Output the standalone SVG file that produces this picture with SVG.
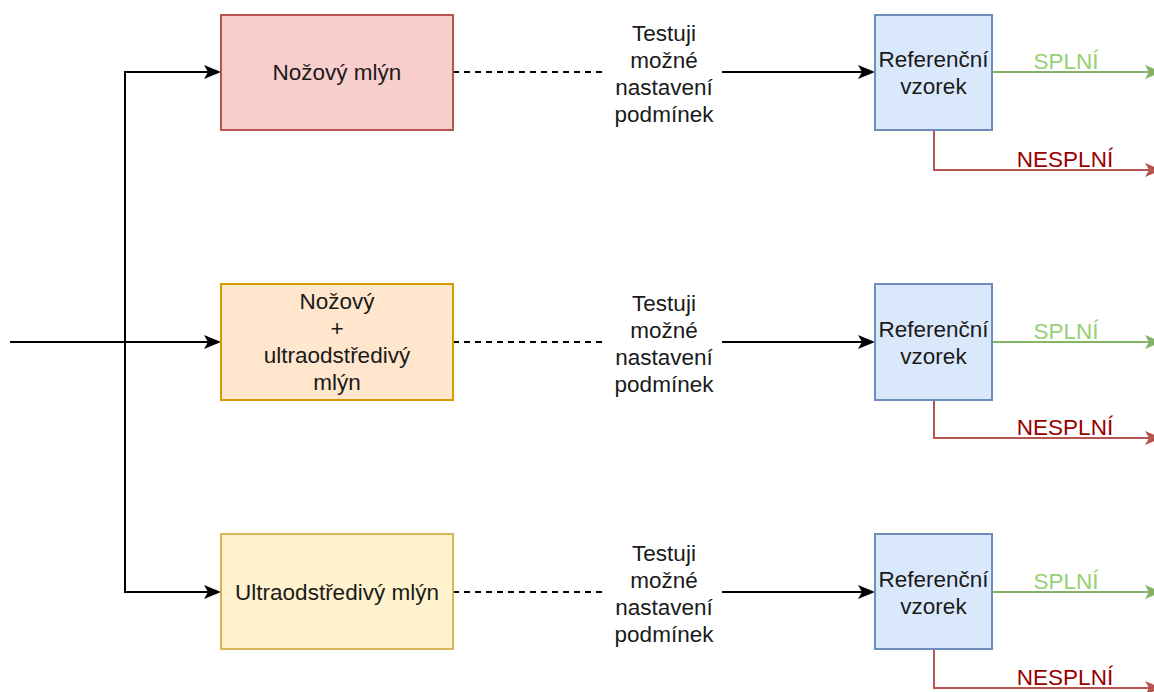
<svg xmlns="http://www.w3.org/2000/svg" width="1154" height="692" viewBox="0 0 1154 692">
  <style>
    text { font-family: "Liberation Sans", Arial, Helvetica, sans-serif; font-size: 22.5px; text-anchor: middle; fill: #1a1a1a; }
    .box { stroke-width: 2; }
    .mill-red { fill: #f8cecc; stroke: #b85450; }
    .mill-orange { fill: #ffe6cc; stroke: #d79b00; }
    .mill-yellow { fill: #fff2cc; stroke: #d6b656; }
    .ref { fill: #dae8fc; stroke: #6c8ebf; }
    .edge { fill: none; stroke-width: 2; }
    .black { stroke: #000; }
    .dash { stroke: #000; stroke-dasharray: 6 5; }
    .green { stroke: #82b366; }
    .red { stroke: #b85450; }
    .ok { fill: #97d077; }
    .fail { fill: #990000; }
  </style>
  <defs>
    <marker id="arrow-black" markerUnits="userSpaceOnUse" markerWidth="18" markerHeight="15" viewBox="0 0 18 15" refX="11" refY="7" orient="auto">
      <path d="M17,7 L0,0 L4,7 L0,14 Z" fill="#000"/>
    </marker>
    <marker id="arrow-green" markerUnits="userSpaceOnUse" markerWidth="18" markerHeight="15" viewBox="0 0 18 15" refX="11" refY="7" orient="auto">
      <path d="M17,7 L0,0 L4,7 L0,14 Z" fill="#82b366"/>
    </marker>
    <marker id="arrow-red" markerUnits="userSpaceOnUse" markerWidth="18" markerHeight="15" viewBox="0 0 18 15" refX="11" refY="7" orient="auto">
      <path d="M17,7 L0,0 L4,7 L0,14 Z" fill="#b85450"/>
    </marker>
  </defs>

  <rect width="1154" height="692" fill="#ffffff"/>

  <!-- connectors -->
  <g id="connectors">
    <!-- input feed and branching to the three mills -->
    <path class="edge black" d="M10,342 L215,342" marker-end="url(#arrow-black)"/>
    <path class="edge black" d="M215,72 L125,72 L125,592 L215,592"/>
    <path class="edge black" d="M125,72 L215,72" marker-end="url(#arrow-black)"/>
    <path class="edge black" d="M125,592 L215,592" marker-end="url(#arrow-black)"/>

    <!-- mill to reference sample (dashed part, label, solid arrow) -->
    <path class="edge dash" d="M453,72 L607,72"/>
    <path class="edge black" d="M722,72 L869,72" marker-end="url(#arrow-black)"/>
    <path class="edge dash" d="M453,342 L607,342"/>
    <path class="edge black" d="M722,342 L869,342" marker-end="url(#arrow-black)"/>
    <path class="edge dash" d="M453,592 L607,592"/>
    <path class="edge black" d="M722,592 L869,592" marker-end="url(#arrow-black)"/>

    <!-- outcomes -->
    <path class="edge green" d="M992,72 L1156,72" marker-end="url(#arrow-green)"/>
    <path class="edge red" d="M934,130 L934,170 L1156,170" marker-end="url(#arrow-red)"/>
    <path class="edge green" d="M992,342 L1156,342" marker-end="url(#arrow-green)"/>
    <path class="edge red" d="M934,400 L934,438 L1156,438" marker-end="url(#arrow-red)"/>
    <path class="edge green" d="M992,592 L1156,592" marker-end="url(#arrow-green)"/>
    <path class="edge red" d="M934,649 L934,688 L1156,688" marker-end="url(#arrow-red)"/>

    <!-- edge labels -->
    <g id="label-test-1">
      <text x="664" y="41">Testuji</text>
      <text x="664" y="68">možné</text>
      <text x="664" y="95">nastavení</text>
      <text x="664" y="122">podmínek</text>
    </g>
    <g id="label-test-2">
      <text x="664" y="311">Testuji</text>
      <text x="664" y="338">možné</text>
      <text x="664" y="365">nastavení</text>
      <text x="664" y="392">podmínek</text>
    </g>
    <g id="label-test-3">
      <text x="664" y="561">Testuji</text>
      <text x="664" y="588">možné</text>
      <text x="664" y="615">nastavení</text>
      <text x="664" y="642">podmínek</text>
    </g>
    <text class="ok" x="1066" y="69">SPLNÍ</text>
    <text class="fail" x="1065" y="167">NESPLNÍ</text>
    <text class="ok" x="1066" y="339">SPLNÍ</text>
    <text class="fail" x="1065" y="435">NESPLNÍ</text>
    <text class="ok" x="1066" y="589">SPLNÍ</text>
    <text class="fail" x="1065" y="685">NESPLNÍ</text>
  </g>

  <!-- mills -->
  <g id="mill-knife">
    <rect class="box mill-red" x="221" y="15" width="232" height="115"/>
    <text x="337" y="80">Nožový mlýn</text>
  </g>
  <g id="mill-combined">
    <rect class="box mill-orange" x="221" y="284" width="232" height="116"/>
    <text x="337" y="309">Nožový</text>
    <text x="337" y="336">+</text>
    <text x="337" y="363">ultraodstředivý</text>
    <text x="337" y="390">mlýn</text>
  </g>
  <g id="mill-ultra">
    <rect class="box mill-yellow" x="221" y="534" width="232" height="115"/>
    <text x="337" y="600">Ultraodstředivý mlýn</text>
  </g>

  <!-- reference samples -->
  <g id="ref-1">
    <rect class="box ref" x="875" y="15" width="117" height="115"/>
    <text x="933.5" y="67">Referenční</text>
    <text x="933.5" y="94">vzorek</text>
  </g>
  <g id="ref-2">
    <rect class="box ref" x="875" y="284" width="117" height="116"/>
    <text x="933.5" y="337">Referenční</text>
    <text x="933.5" y="364">vzorek</text>
  </g>
  <g id="ref-3">
    <rect class="box ref" x="875" y="534" width="117" height="115"/>
    <text x="933.5" y="587">Referenční</text>
    <text x="933.5" y="614">vzorek</text>
  </g>
</svg>
